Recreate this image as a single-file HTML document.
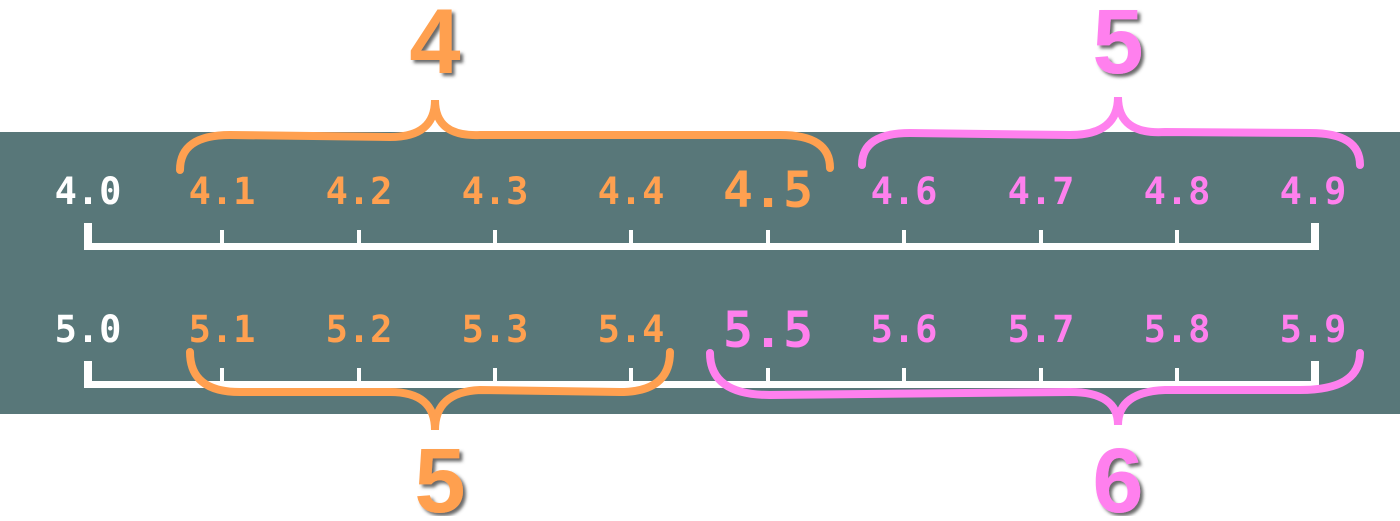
<!DOCTYPE html>
<html><head><style>
body{margin:0;background:#fff;width:1400px;height:516px;overflow:hidden}
svg text{font-family:"DejaVu Sans Mono","Liberation Mono",monospace;font-weight:bold}
</style></head><body>
<svg width="1400" height="516" xmlns="http://www.w3.org/2000/svg">
<defs><filter id="sh"><feDropShadow dx="3" dy="3" stdDeviation="1.5" flood-color="#444" flood-opacity="0.8"/></filter></defs>
<rect x="0" y="132" width="1400" height="282" fill="#587779"/>
<g fill="#fff">
<rect x="84" y="243" width="1235" height="7"/>
<rect x="84" y="223" width="8" height="25"/>
<rect x="1311" y="223" width="8" height="25"/>
<rect x="84" y="381" width="1235" height="7"/>
<rect x="84" y="361" width="8" height="25"/>
<rect x="1311" y="361" width="8" height="25"/>
</g>
<g fill="#fff">
<rect x="220" y="230" width="4" height="16"/><rect x="357" y="230" width="4" height="16"/><rect x="493" y="230" width="4" height="16"/><rect x="629" y="230" width="4" height="16"/><rect x="766" y="230" width="4" height="16"/><rect x="902" y="230" width="4" height="16"/><rect x="1039" y="230" width="4" height="16"/><rect x="1175" y="230" width="4" height="16"/>
<rect x="220" y="368" width="4" height="16"/><rect x="357" y="368" width="4" height="16"/><rect x="493" y="368" width="4" height="16"/><rect x="629" y="368" width="4" height="16"/><rect x="766" y="368" width="4" height="16"/><rect x="902" y="368" width="4" height="16"/><rect x="1039" y="368" width="4" height="16"/><rect x="1175" y="368" width="4" height="16"/>
</g>
<g font-size="37" text-anchor="middle">
<text x="88" y="204" fill="#fff">4.0</text>
<text x="222" y="204" fill="#FFA050">4.1</text>
<text x="359" y="204" fill="#FFA050">4.2</text>
<text x="495" y="204" fill="#FFA050">4.3</text>
<text x="631" y="204" fill="#FFA050">4.4</text>
<text x="768" y="207" fill="#FFA050" font-size="50">4.5</text>
<text x="904" y="204" fill="#FF80EE">4.6</text>
<text x="1041" y="204" fill="#FF80EE">4.7</text>
<text x="1177" y="204" fill="#FF80EE">4.8</text>
<text x="1313" y="204" fill="#FF80EE">4.9</text>
<text x="88" y="342" fill="#fff">5.0</text>
<text x="222" y="342" fill="#FFA050">5.1</text>
<text x="359" y="342" fill="#FFA050">5.2</text>
<text x="495" y="342" fill="#FFA050">5.3</text>
<text x="631" y="342" fill="#FFA050">5.4</text>
<text x="768" y="347" fill="#FF80EE" font-size="50">5.5</text>
<text x="904" y="342" fill="#FF80EE">5.6</text>
<text x="1041" y="342" fill="#FF80EE">5.7</text>
<text x="1177" y="342" fill="#FF80EE">5.8</text>
<text x="1313" y="342" fill="#FF80EE">5.9</text>
</g>
<g fill="none" stroke-width="8" stroke-linecap="round">
<path stroke="#FFA050" d="M180 170 Q180 135 230 135 L390 137 Q435 137 435 100 Q435 137 480 135 L780 135 Q830 135 830 168"/>
<path stroke="#FF80EE" d="M862 165 Q862 133 910 133 L1070 135 Q1118 135 1118 97 Q1118 135 1165 132 L1310 133 Q1360 133 1360 165"/>
<path stroke="#FFA050" d="M190 352 Q190 392 240 392 L390 392 Q435 392 435 430 Q435 392 480 390 L620 392 Q670 392 670 352"/>
<path stroke="#FF80EE" d="M710 353 Q710 395 770 395 L1070 392 Q1118 392 1118 425 Q1118 392 1165 390 L1300 390 Q1360 390 1360 353"/>
</g>
<g font-size="92" text-anchor="middle" filter="url(#sh)" font-family="Liberation Sans,sans-serif">
<text x="435" y="73" fill="#FFA050" style="font-family:'Liberation Sans',sans-serif">4</text>
<text x="1118" y="73" fill="#FF80EE" style="font-family:'Liberation Sans',sans-serif">5</text>
<text x="440" y="512" fill="#FFA050" style="font-family:'Liberation Sans',sans-serif">5</text>
<text x="1118" y="512" fill="#FF80EE" style="font-family:'Liberation Sans',sans-serif">6</text>
</g>
</svg>
</body></html>
